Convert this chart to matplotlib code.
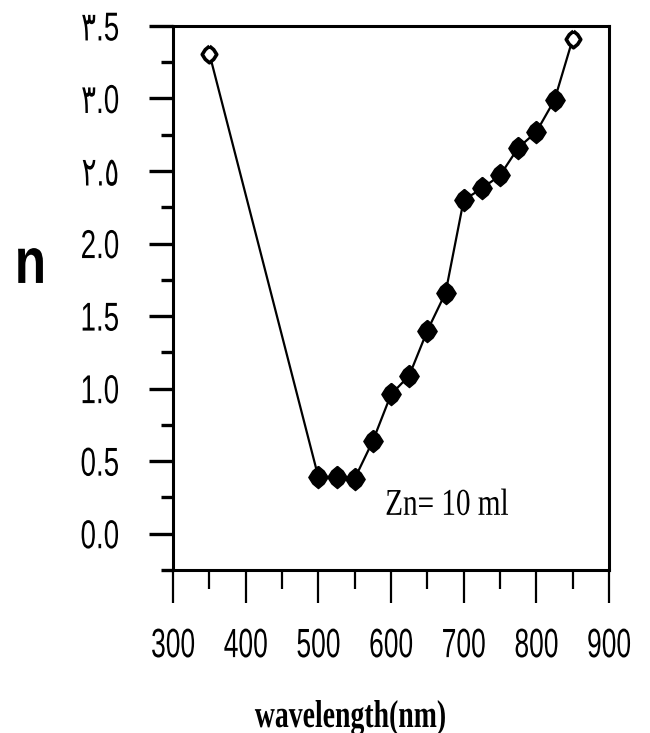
import matplotlib
matplotlib.use("Agg")
import matplotlib.pyplot as plt
from matplotlib.patheffects import AbstractPathEffect
from matplotlib.transforms import Affine2D
from matplotlib.ticker import MultipleLocator

# Refractive index versus wavelength
wavelength = [350, 500, 525, 550, 575, 600, 625, 650, 675, 700, 725, 750, 775, 800, 825, 850]
n_index = [3.31, 0.39, 0.39, 0.38, 0.64, 0.96, 1.09, 1.40, 1.66, 2.30, 2.38, 2.47, 2.66, 2.77, 2.99, 3.41]
open_idx = [0, 15]
filled_idx = list(range(1, 15))

x_ticks = [300, 400, 500, 600, 700, 800, 900]
x_tick_labels = ["300", "400", "500", "600", "700", "800", "900"]
y_ticks = [0.0, 0.5, 1.0, 1.5, 2.0, 2.5, 3.0, 3.5]
y_tick_labels = ["0.0", "0.5", "1.0", "1.5", "2.0", "\u0662.\u0665", "\u0663.0", "\u0663.5"]
series_note = "Zn= 10 ml"
x_title = "wavelength(nm)"
y_title = "n"


class TallText(AbstractPathEffect):
    """Draw glyph outlines stretched vertically about height y0 (em = 100 units)."""

    def __init__(self, sy, y0=0.0):
        super().__init__()
        self.sy = sy
        self.y0 = y0

    def draw_path(self, renderer, gc, tpath, affine, rgbFace=None):
        stretch = Affine2D().translate(0, -self.y0).scale(1, self.sy).translate(0, self.y0)
        renderer.draw_path(gc, tpath, stretch + affine, rgbFace)


# fat four-pointed star marker
w, h, r = 0.87, 1.0, 0.58
star = [(0, h), (r * w, r * h), (w, 0), (r * w, -r * h),
        (0, -h), (-r * w, -r * h), (-w, 0), (-r * w, r * h), (0, h)]

fig = plt.figure(figsize=(6.5, 7.33), dpi=100)
ax = fig.add_axes([0.2662, 0.2224, 0.6708, 0.7422])

ax.plot(wavelength, n_index, color="black", lw=1.6, marker=star, ms=16,
        markevery=filled_idx, mfc="black", mec="black", zorder=3)
ax.plot(wavelength, n_index, ls="none", marker=star, ms=12, markevery=open_idx,
        mfc="white", mec="black", mew=2.6, zorder=4)

ax.set_xlim(300, 900)
ax.set_ylim(-0.25, 3.5)

for s in ax.spines.values():
    s.set_linewidth(2.2)

ax.set_xticks(x_ticks, x_tick_labels)
ax.set_yticks(y_ticks, y_tick_labels)
ax.xaxis.set_minor_locator(MultipleLocator(50))
ax.yaxis.set_minor_locator(MultipleLocator(0.25))

ax.tick_params(axis="x", which="major", direction="out", length=23.8, width=1.6, pad=21.5)
ax.tick_params(axis="x", which="minor", direction="out", length=13.7, width=1.6)
ax.tick_params(axis="y", which="major", direction="out", length=17.3, width=2.4, pad=21.5)
ax.tick_params(axis="y", which="minor", direction="out", length=8.6, width=2.4)

for lbl in ax.get_xticklabels():
    lbl.set_fontfamily(["Liberation Sans", "DejaVu Sans"])
    lbl.set_fontsize(19)
    lbl.set_path_effects([TallText(1.55, 36)])
for lbl in ax.get_yticklabels():
    lbl.set_fontfamily(["Liberation Sans", "DejaVu Sans"])
    lbl.set_fontsize(20)
    lbl.set_path_effects([TallText(1.45, 36)])

ax.set_ylabel(y_title, rotation=0, fontsize=37, fontweight="bold",
              family="Liberation Sans", ha="center", va="baseline",
              path_effects=[TallText(1.26, 0)])
ax.yaxis.set_label_coords(-0.327, 0.5276)

ax.set_xlabel(x_title, fontsize=20, fontweight="bold", family="Liberation Serif",
              ha="center", va="baseline", path_effects=[TallText(1.4, 0)])
ax.xaxis.set_label_coords(0.407, -0.2886)

ax.text(592, 0.13, series_note, fontsize=21, family="Liberation Serif",
        ha="left", va="baseline", path_effects=[TallText(1.3, 0)])

fig.savefig("out.png", dpi=100)
